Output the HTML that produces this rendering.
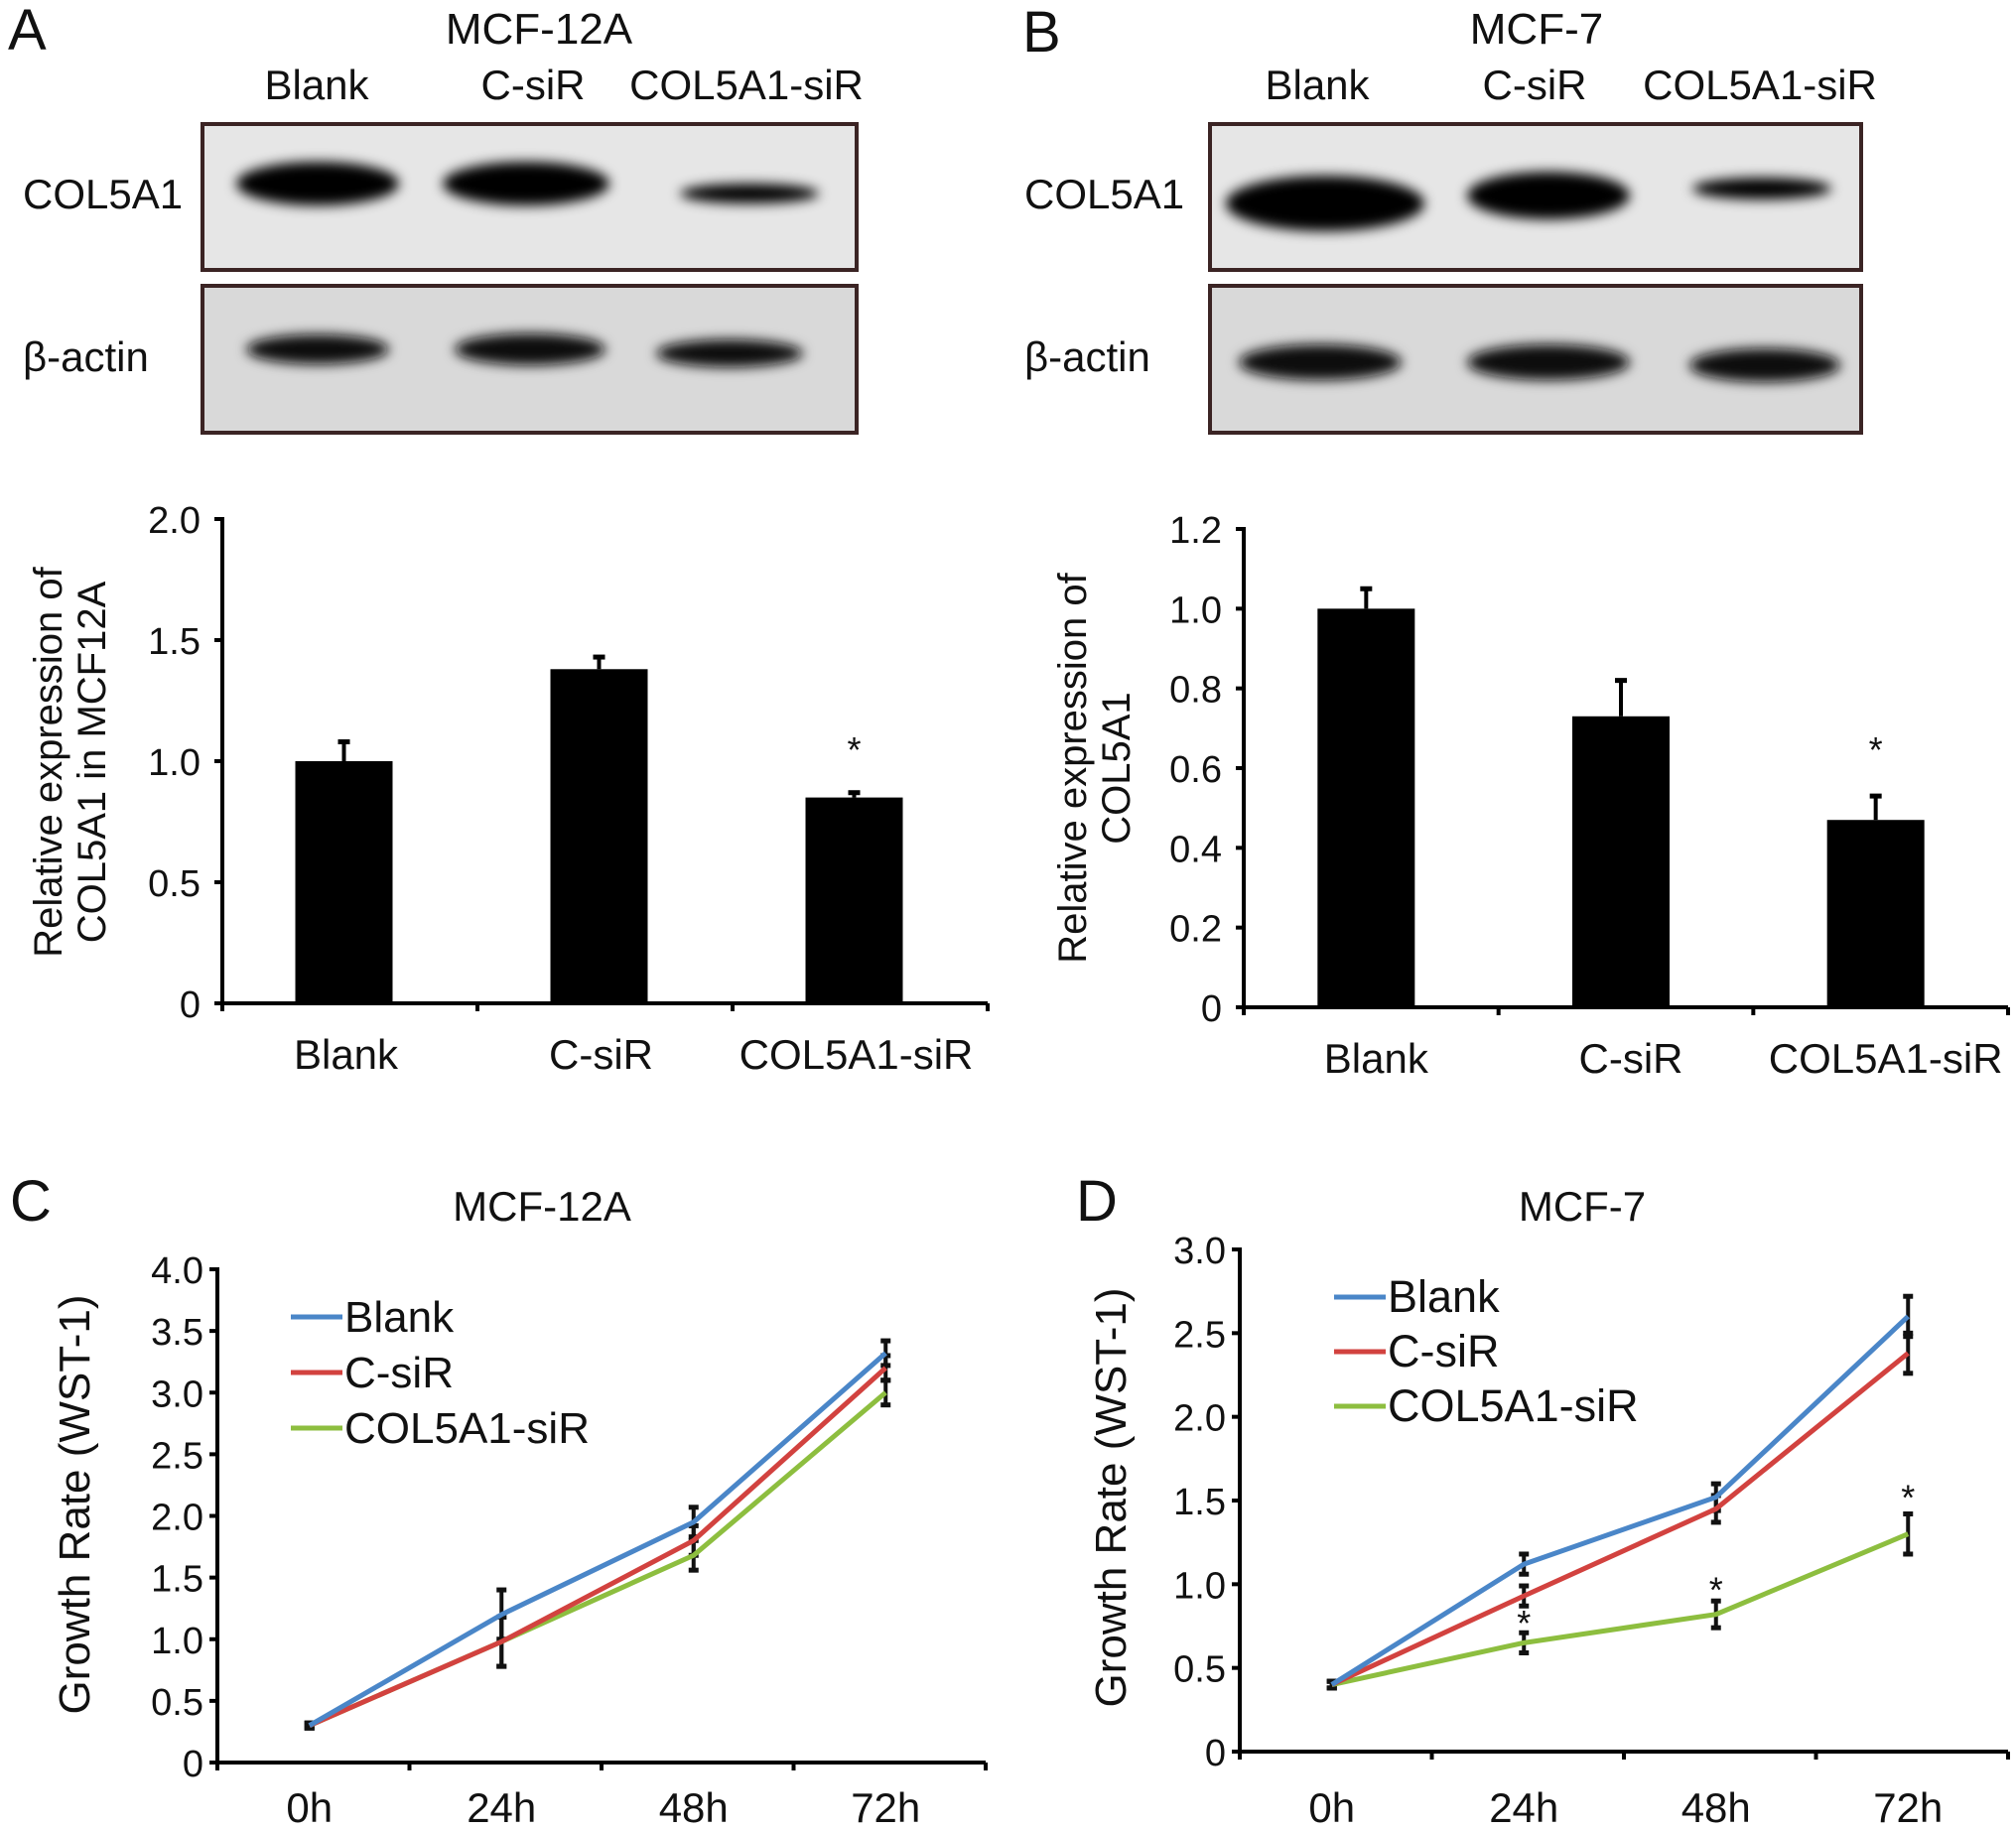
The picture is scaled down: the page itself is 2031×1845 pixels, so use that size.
<!DOCTYPE html>
<html><head><meta charset="utf-8"><style>
html,body{margin:0;padding:0;background:#fff}
svg{display:block}
text{font-family:"Liberation Sans",sans-serif;fill:#111}
</style></head><body>
<svg id="s" width="2031" height="1845" viewBox="0 0 2031 1845" xmlns="http://www.w3.org/2000/svg">
<defs>
<filter id="bl" x="-30%" y="-100%" width="160%" height="300%"><feGaussianBlur stdDeviation="6"/></filter>
</defs>
<g id="root"></g>
</svg>
<script>
// ---- data ----
const barCats = ["Blank","C-siR","COL5A1-siR"];
const barA = [1.0, 1.38, 0.85];
const barAErr = [0.08, 0.05, 0.02];
const barB = [1.0, 0.73, 0.47];
const barBErr = [0.05, 0.09, 0.06];
const ticksA = [0,0.5,1.0,1.5,2.0];
const ticksALabels = ["0","0.5","1.0","1.5","2.0"];
const ticksB = [0,0.2,0.4,0.6,0.8,1.0,1.2];
const ticksBLabels = ["0","0.2","0.4","0.6","0.8","1.0","1.2"];
const timeCats = ["0h","24h","48h","72h"];
const seriesNames = ["Blank","C-siR","COL5A1-siR"];
const cBlank = [0.3, 1.2, 1.95, 3.32];
const cCsiR = [0.3, 0.98, 1.8, 3.2];
const cCol = [0.3, 0.98, 1.68, 3.0];
const cErr = [0.02, 0.2, 0.12, 0.1];
const dBlank = [0.4, 1.12, 1.52, 2.6];
const dCsiR = [0.4, 0.93, 1.45, 2.38];
const dCol = [0.4, 0.65, 0.82, 1.3];
const dErr = [0.02, 0.06, 0.08, 0.12];
const ticksC = [0,0.5,1.0,1.5,2.0,2.5,3.0,3.5,4.0];
const ticksCLabels = ["0","0.5","1.0","1.5","2.0","2.5","3.0","3.5","4.0"];
const ticksD = [0,0.5,1.0,1.5,2.0,2.5,3.0];
const ticksDLabels = ["0","0.5","1.0","1.5","2.0","2.5","3.0"];
const colors = ["#4a86c8","#d2423f","#8dbe3f"];

const NS="http://www.w3.org/2000/svg";
const root=document.getElementById('root');
function el(tag,attrs,parent,txt){const e=document.createElementNS(NS,tag);for(const k in attrs)e.setAttribute(k,attrs[k]);if(txt!==undefined)e.textContent=txt;(parent||root).appendChild(e);return e;}
function T(x,y,s,size,anchor,name,parent){const t=el('text',{x:x,y:y,'font-size':size,'text-anchor':anchor||'middle'},parent,s);


return t;}

T(8,50,"A",58,"start","panel-label-a");
T(1030,52,"B",58,"start","panel-label-b");
T(10,1230,"C",58,"start","panel-label-c");
T(1084,1230,"D",58,"start","panel-label-d");

// ---- blots ----
function blot(x0,title,tx,lanes,lblx,colBands,actBands,nm){
  T(tx,44,title,44,"middle",nm+"-blot-title");
  lanes.forEach((l,i)=>{T(l[0],100,l[1],42,"middle",nm+"-lane-label");});
  const g1=el('g',{});
  
  
  el('rect',{x:x0,y:125,width:(x0<1000?659:656),height:147,fill:'#e6e6e6',stroke:'#3b2424','stroke-width':4},g1);
  colBands.forEach(b=>{el('ellipse',{cx:b[0],cy:b[1],rx:b[2],ry:b[3],fill:'#000',filter:'url(#bl)'},g1);});
  const g2=el('g',{});
  
  
  el('rect',{x:x0,y:288,width:(x0<1000?659:656),height:148,fill:'#d9d9d9',stroke:'#3b2424','stroke-width':4},g2);
  actBands.forEach(b=>{el('ellipse',{cx:b[0],cy:b[1],rx:b[2],ry:b[3],fill:'#111',filter:'url(#bl)'},g2);});
  T(lblx,210,"COL5A1",42,"start",nm+"-col5a1-label");
  T(lblx,374,"β-actin",42,"start",nm+"-actin-label");
}
blot(204,"MCF-12A",543,[[319,"Blank"],[537,"C-siR"],[752,"COL5A1-siR"]],23,
 [[320,185,82,22],[530,185,84,22],[755,195,70,10]],
 [[320,352,72,15],[534,352,76,16],[735,356,74,14]],"a");
blot(1219,"MCF-7",1548,[[1327,"Blank"],[1546,"C-siR"],[1773,"COL5A1-siR"]],1032,
 [[1335,205,100,28],[1560,197,82,24],[1775,190,70,11]],
 [[1330,365,82,18],[1560,365,82,18],[1778,368,76,17]],"b");

// ---- bar charts ----
function barChart(o){
  const y=v=>o.y0-(v/o.vmax)*(o.y0-o.ytop);
  const g=el('g',{});
  
  
  el('line',{x1:o.ax,y1:y(o.vmax)-2,x2:o.ax,y2:o.y0+2,stroke:'#000','stroke-width':4},g);
  el('line',{x1:o.ax,y1:o.y0,x2:o.xr,y2:o.y0,stroke:'#000','stroke-width':4},g);
  o.ticks.forEach((v,i)=>{el('line',{x1:o.ax-8,y1:y(v),x2:o.ax,y2:y(v),stroke:'#000','stroke-width':4},g);
    T(o.ax-22,y(v)+14,o.tickLabels[i],38,"end",o.nm+"-y-tick-label",g);});
  const n=o.vals.length, w=(o.xr-o.ax)/n;
  for(let i=0;i<=n;i++)el('line',{x1:o.ax+i*w,y1:o.y0,x2:o.ax+i*w,y2:o.y0+8,stroke:'#000','stroke-width':4},g);
  o.vals.forEach((v,i)=>{
    const cx=o.ax+w*(i+0.5)+o.shift, bw=98;
    const r=el('rect',{x:cx-bw/2,y:y(v),width:bw,height:o.y0-y(v),fill:'#000'},g);
    
    
    el('line',{x1:cx,y1:y(v),x2:cx,y2:y(v+o.errs[i]),stroke:'#000','stroke-width':4},g);
    el('line',{x1:cx-6,y1:y(v+o.errs[i]),x2:cx+6,y2:y(v+o.errs[i]),stroke:'#000','stroke-width':5},g);
    T(cx+o.lshift,o.y0+66,barCats[i],42,"middle",o.nm+"-x-tick-label",g);
  });
  const si=n-1, scx=o.ax+w*(si+0.5)+o.shift;
  T(scx,768,"*",36,"middle",o.nm+"-significance-star",g);
  const tt=el('text',{transform:`translate(${o.tx},${o.tcy}) rotate(-90)`,'font-size':40,'text-anchor':'middle'},g);
  
  
  o.title.forEach((s,i)=>{el('tspan',{x:0,dy:i?44:0},tt,s);});
}
barChart({nm:'a',ax:224,xr:995,y0:1011,ytop:523,vmax:2.0,ticks:ticksA,tickLabels:ticksALabels,vals:barA,errs:barAErr,shift:-6,lshift:2,tx:62,tcy:768,title:["Relative expression of","COL5A1 in MCF12A"]});
barChart({nm:'b',ax:1253,xr:2023,y0:1015,ytop:533,vmax:1.2,ticks:ticksB,tickLabels:ticksBLabels,vals:barB,errs:barBErr,shift:-5,lshift:10,tx:1094,tcy:774,title:["Relative expression of","COL5A1"]});

// ---- line charts ----
function lineChart(o){
  const y=v=>o.y0-(v/o.vmax)*(o.y0-o.ytop);
  const n=timeCats.length, w=(o.xr-o.ax)/n;
  const x=i=>o.ax+w*(i+0.5)-4;
  const g=el('g',{});
  
  
  T(o.titleX,1230,o.title,42,"middle",o.nm+"-chart-title",g);
  el('line',{x1:o.ax,y1:y(o.vmax)-2,x2:o.ax,y2:o.y0+2,stroke:'#000','stroke-width':4},g);
  el('line',{x1:o.ax,y1:o.y0,x2:o.xr,y2:o.y0,stroke:'#000','stroke-width':4},g);
  o.ticks.forEach((v,i)=>{el('line',{x1:o.ax-8,y1:y(v),x2:o.ax,y2:y(v),stroke:'#000','stroke-width':4},g);
    T(o.ax-14,y(v)+14,o.tickLabels[i],38,"end",o.nm+"-y-tick-label",g);});
  for(let i=0;i<=n;i++)el('line',{x1:o.ax+i*w,y1:o.y0,x2:o.ax+i*w,y2:o.y0+8,stroke:'#000','stroke-width':4},g);
  timeCats.forEach((c,i)=>T(x(i),1836,c,42,"middle",o.nm+"-x-tick-label",g));
  o.series.forEach((s,k)=>{
    s.forEach((v,i)=>{
      el('line',{x1:x(i),y1:y(v-o.err[i]),x2:x(i),y2:y(v+o.err[i]),stroke:'#111','stroke-width':4},g);
      el('line',{x1:x(i)-5,y1:y(v-o.err[i]),x2:x(i)+5,y2:y(v-o.err[i]),stroke:'#111','stroke-width':5},g);
      el('line',{x1:x(i)-5,y1:y(v+o.err[i]),x2:x(i)+5,y2:y(v+o.err[i]),stroke:'#111','stroke-width':5},g);
    });
  });
  o.series.slice().reverse().forEach((s,kk)=>{const k=o.series.length-1-kk;
    const p=el('polyline',{points:s.map((v,i)=>x(i)+','+y(v)).join(' '),fill:'none',stroke:colors[k],'stroke-width':5},g);
    
    
  });
  seriesNames.forEach((s,k)=>{
    const ly=o.legY+k*o.legDy;
    const lg=el('g',{},g);
    
    
    el('line',{x1:o.legX,y1:ly,x2:o.legX+52,y2:ly,stroke:colors[k],'stroke-width':5},lg);
    T(o.legX+54,ly+15,s,o.legSize,"start",o.nm+"-legend-label",lg);
  });
  (o.stars||[]).forEach(st=>T(x(st[0]),y(st[1])+18,"*",36,"middle",o.nm+"-significance-star",g));
  const tt=el('text',{transform:`translate(${o.tx},${o.tcy}) rotate(-90)`,'font-size':44,'text-anchor':'middle'},g,"Growth Rate (WST-1)");
  
  
}
lineChart({nm:'c',title:"MCF-12A",titleX:546,ax:219,xr:993,y0:1776,ytop:1279,vmax:4.0,ticks:ticksC,tickLabels:ticksCLabels,
  series:[cBlank,cCsiR,cCol],err:cErr,legX:293,legY:1327,legDy:56,legSize:44,tx:90,tcy:1516});
lineChart({nm:'d',title:"MCF-7",titleX:1594,ax:1249,xr:2023,y0:1765,ytop:1259,vmax:3.0,ticks:ticksD,tickLabels:ticksDLabels,
  series:[dBlank,dCsiR,dCol],err:dErr,legX:1344,legY:1307,legDy:55,legSize:45,tx:1134,tcy:1509,
  stars:[[1,0.8],[2,1.0],[3,1.55]]});
</script>
</body></html>
